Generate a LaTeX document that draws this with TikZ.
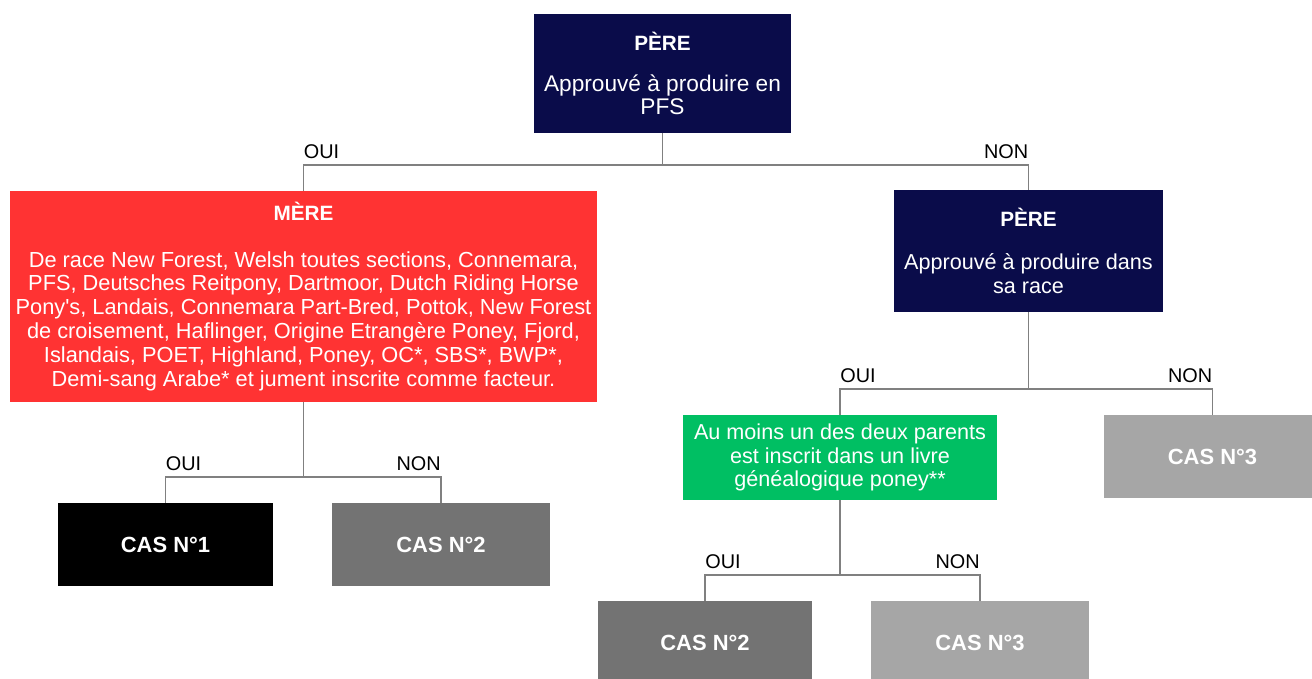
\documentclass[tikz,border=0pt]{standalone}
\usepackage{fontspec}
\setmainfont{Liberation Sans}
\usepackage{tikz}
\usetikzlibrary{calc,positioning}
\usepackage{xcolor}
\definecolor{navy}{RGB}{10,12,74}
\definecolor{redbox}{RGB}{255,51,51}
\definecolor{greenbox}{RGB}{0,191,99}
\definecolor{darkcas}{RGB}{115,115,115}
\definecolor{lightcas}{RGB}{166,166,166}
\newcommand{\boxtitle}[1]{{\fontsize{11.8}{13.6}\selectfont\bfseries #1}}

\begin{document}
\begin{tikzpicture}[x=0.02cm, y=-0.02cm,
    box/.style={text=white, inner sep=0pt, align=center, font=\fontsize{12.3}{13.6}\selectfont},
    casbox/.style={box, minimum width=4.3cm, minimum height=1.66cm, font=\fontsize{12.5}{14}\selectfont\bfseries},
    link/.style={draw=gray, line width=0.7pt},
    lbl/.style={inner sep=0pt, font=\fontsize{11.3}{13}\selectfont}]
    \useasboundingbox (0,0) rectangle (1312,679);

% Draw the boxes
\node[box, fill=navy, minimum width=5.14cm, minimum height=2.38cm, font=\fontsize{12.9}{13.1}\selectfont] (pere) at (662.5,73.5)
    {\boxtitle{PÈRE}\\[10pt] Approuvé à produire en\\ PFS};
\node[box, fill=redbox, minimum width=11.74cm, minimum height=4.22cm, font=\fontsize{12.4}{13.6}\selectfont] (mere) at (303.5,296.5)
    {\boxtitle{MÈRE}\\[13pt] De race New Forest, Welsh toutes sections, Connemara,\\
     PFS, Deutsches Reitpony, Dartmoor, Dutch Riding Horse\\
     Pony\textquotesingle s, Landais, Connemara Part-Bred, Pottok, New Forest\\
     de croisement, Haflinger, Origine Etrangère Poney, Fjord,\\
     Islandais, POET, Highland, Poney, OC*, SBS*, BWP*,\\
     Demi-sang Arabe* et jument inscrite comme facteur.};
\node[box, fill=navy, minimum width=5.38cm, minimum height=2.44cm] (perebis) at (1028.5,251)
    {\boxtitle{PÈRE}\\[11pt] Approuvé à produire dans\\ sa race};
\node[box, fill=greenbox, minimum width=6.28cm, minimum height=1.7cm] (livre) at (840,457.5)
    {Au moins un des deux parents\\ est inscrit dans un livre\\ généalogique poney**};

\node[casbox, fill=black] (casun) at (165.5,544.5) {CAS N°1};
\node[casbox, fill=darkcas, minimum width=4.36cm] (casdeux) at (441,544.5) {CAS N°2};
\node[casbox, fill=lightcas, minimum width=4.36cm] (castrois) at (1212.5,456.5) {CAS N°3};
\node[casbox, fill=darkcas, minimum width=4.28cm] (casdeuxbis) at (705,642.5) {CAS N°2};
\node[casbox, fill=lightcas, minimum width=4.36cm] (castroisbis) at (980,642.5) {CAS N°3};

% Branch points
\coordinate (ja) at (662.5,165);
\coordinate (jb) at (303.5,477);
\coordinate (jc) at (1028.5,389);
\coordinate (jd) at (840,575);

% Connectors
\draw[link] (pere) -- (ja);
\draw[link] (mere.north) |- (ja) -| (perebis.north);
\draw[link] (mere) -- (jb);
\draw[link] (casun.north) |- (jb) -| (casdeux.north);
\draw[link] (perebis) -- (jc);
\draw[link] (livre.north) |- (jc) -| (castrois.north);
\draw[link] (livre) -- (jd);
\draw[link] (casdeuxbis.north) |- (jd) -| (castroisbis.north);

% Labels
\node[lbl, anchor=south west, yshift=3.5pt] (ouia) at (mere.north |- ja) {OUI};
\node[lbl, anchor=south east, yshift=3.5pt] (nona) at (perebis.north |- ja) {NON};
\node[lbl, anchor=south west, yshift=3.5pt] (ouib) at (casun.north |- jb) {OUI};
\node[lbl, anchor=south east, yshift=3.5pt] (nonb) at (casdeux.north |- jb) {NON};
\node[lbl, anchor=south west, yshift=3.5pt] (ouic) at (livre.north |- jc) {OUI};
\node[lbl, anchor=south east, yshift=3.5pt] (nonc) at (castrois.north |- jc) {NON};
\node[lbl, anchor=south west, yshift=3.5pt] (ouid) at (casdeuxbis.north |- jd) {OUI};
\node[lbl, anchor=south east, yshift=3.5pt] (nond) at (castroisbis.north |- jd) {NON};
\end{tikzpicture}
\end{document}
